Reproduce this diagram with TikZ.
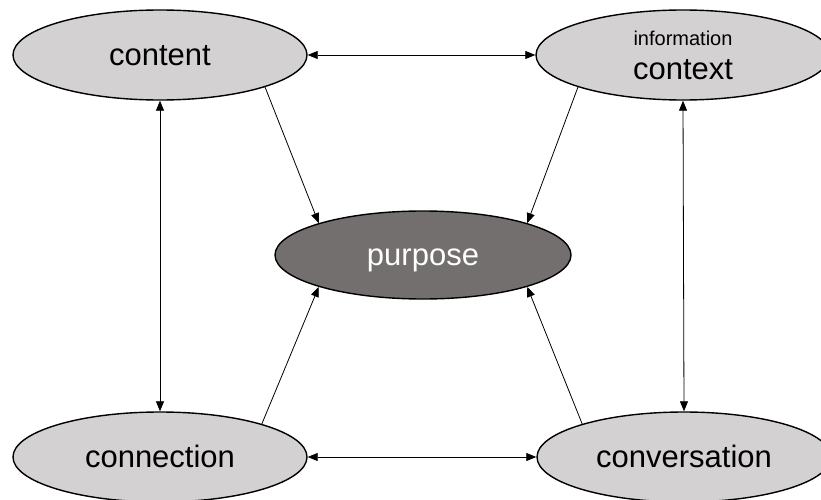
\documentclass[tikz,border=0pt]{standalone}
\usepackage{fontspec}
\setmainfont{Liberation Sans}
\usetikzlibrary{shapes.geometric,arrows.meta}
\definecolor{lightfill}{RGB}{211,209,210}
\definecolor{darkfill}{RGB}{115,111,111}
\begin{document}
\begin{tikzpicture}[x=1pt,y=-1pt,
  oval/.style={ellipse,draw=black,line width=1.4pt,fill=lightfill,minimum width=294pt,minimum height=90pt,inner sep=0pt,font=\fontsize{31}{34}\selectfont},
  onel/.style={text height=21pt,text depth=0pt},
  darkoval/.style={oval,fill=darkfill,text=white,minimum width=296pt,minimum height=88pt},
  conn/.style={line width=0.8pt,draw=black},
  both/.style={conn,{Triangle[length=10pt,width=8pt]}-{Triangle[length=10pt,width=8pt]}},
  single/.style={conn,-{Triangle[length=10pt,width=8pt]}}]
\useasboundingbox (0,0) rectangle (821,500);
\node[oval,onel] (content) at (160,55) {content};
\node[oval,align=center] (context) at (683,55) {{\fontsize{20}{24}\selectfont information}\\context};
\node[darkoval,onel] (purpose) at (423,255) {purpose};
\node[oval,onel] (connection) at (160,457) {connection};
\node[oval,onel] (conversation) at (684,457) {conversation};
\draw[both] (content.east) -- (context.west);
\draw[both] (connection.east) -- (conversation.west);
\draw[both] (content.south) -- (connection.north);
\draw[both] (context.south) -- (conversation.north);
\draw[single] (content.-17) -- (purpose.163);
\draw[single] (context.197) -- (purpose.17);
\draw[single] (connection.18) -- (purpose.-163);
\draw[single] (conversation.162) -- (purpose.-17);
\end{tikzpicture}
\end{document}
